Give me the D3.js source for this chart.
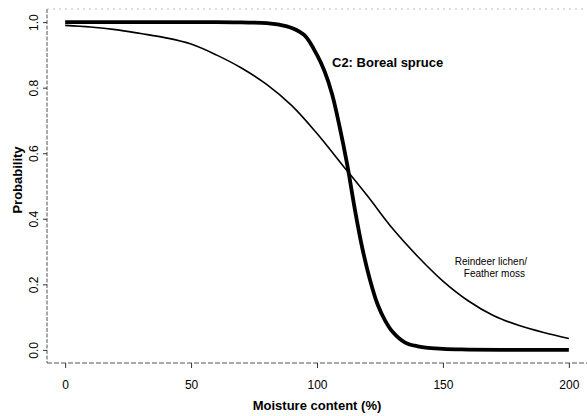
<!DOCTYPE html>
<html>
<head>
<meta charset="utf-8">
<script src="https://cdn.jsdelivr.net/npm/d3@7/dist/d3.min.js"></script>
<style>
  html, body { margin: 0; padding: 0; background: #fff; }
  svg { display: block; font-family: "Liberation Sans", Arial, Helvetica, sans-serif; }
</style>
</head>
<body>
<svg id="chart" width="587" height="416"></svg>
<script>
// Data
const spruceX = [0, 20, 40, 60, 70, 80, 85, 90, 95, 100, 103, 106, 109, 112, 115, 118, 121, 124, 127, 130, 135, 140, 150, 160, 180, 200];
const spruceP = [1.0, 1.0, 1.0, 1.0, 0.999, 0.997, 0.992, 0.982, 0.96, 0.90, 0.85, 0.78, 0.68, 0.565, 0.43, 0.31, 0.215, 0.14, 0.09, 0.055, 0.022, 0.011, 0.003, 0.001, 0.0, 0.0];

const lichenX = [0, 10, 20, 30, 40, 50, 60, 70, 80, 90, 100, 110, 120, 130, 140, 150, 160, 170, 180, 190, 200];
const lichenP = [0.99, 0.985, 0.977, 0.965, 0.952, 0.933, 0.90, 0.86, 0.81, 0.745, 0.66, 0.565, 0.47, 0.37, 0.285, 0.21, 0.15, 0.105, 0.075, 0.053, 0.035];

const xTicks = [0, 50, 100, 150, 200];
const yTicks = [0.0, 0.2, 0.4, 0.6, 0.8, 1.0];

const seriesLabels = ["C2: Boreal spruce", "Reindeer lichen/", "Feather moss"];
const xTitle = "Moisture content (%)";
const yTitle = "Probability";

const svg = d3.select("#chart");

// Plot region (R-style with 4% padding)
const x = d3.scaleLinear().domain([-8, 208]).range([45, 589]);
const y = d3.scaleLinear().domain([-0.04, 1.04]).range([363, 9]);

// Box lines
const boxLeft = x(-8), boxRight = x(208), boxTop = y(1.04), boxBottom = y(-0.04);
svg.append("line").attr("x1", boxLeft + 2).attr("x2", boxLeft + 2).attr("y1", boxTop).attr("y2", boxBottom)
  .attr("stroke", "#555").attr("stroke-width", 1).attr("stroke-dasharray", "4,1.5");
svg.append("line").attr("x1", boxLeft + 2).attr("x2", boxRight).attr("y1", boxBottom).attr("y2", boxBottom)
  .attr("stroke", "#555").attr("stroke-width", 1).attr("stroke-dasharray", "5,2");
svg.append("line").attr("x1", boxLeft + 2).attr("x2", boxRight).attr("y1", boxTop).attr("y2", boxTop)
  .attr("stroke", "#bbb").attr("stroke-width", 1).attr("stroke-dasharray", "2,4");

// X axis
const xAxis = d3.axisBottom(x).tickValues(xTicks).tickSize(5).tickPadding(12).tickFormat(d3.format("d"));
const gx = svg.append("g").attr("transform", `translate(0,${boxBottom})`).call(xAxis);
gx.select(".domain").remove();
gx.selectAll("line").attr("stroke", "#333");
gx.selectAll("text").attr("font-size", 12).attr("fill", "#000")
  .attr("font-family", "'Liberation Sans', Arial, sans-serif");

// Y axis
const yAxis = d3.axisLeft(y).tickValues(yTicks).tickSize(4).tickFormat(d3.format(".1f"));
const gy = svg.append("g").attr("transform", `translate(${boxLeft + 2},0)`).call(yAxis);
gy.select(".domain").remove();
gy.selectAll("line").attr("stroke", "#333");
gy.selectAll("text")
  .attr("x", 0).attr("dy", 0)
  .attr("transform", "translate(-9,0) rotate(-90)")
  .attr("text-anchor", "middle")
  .attr("font-size", 12).attr("fill", "#000")
  .attr("font-family", "'Liberation Sans', Arial, sans-serif");

// Curves
const line = d3.line().x(d => x(d[0])).y(d => y(d[1])).curve(d3.curveCatmullRom.alpha(0.5));
const lichen = lichenX.map((v, i) => [v, lichenP[i]]);
const spruce = spruceX.map((v, i) => [v, spruceP[i]]);

svg.append("path").datum(lichen).attr("d", line)
  .attr("fill", "none").attr("stroke", "#000").attr("stroke-width", 1.6);
svg.append("path").datum(spruce).attr("d", line)
  .attr("fill", "none").attr("stroke", "#000").attr("stroke-width", 3.8)
  .attr("stroke-linejoin", "round");

// Labels
svg.append("text").attr("x", 332).attr("y", 67)
  .attr("font-size", 13).attr("font-weight", "bold").text(seriesLabels[0]);
svg.append("text").attr("x", 527).attr("y", 265).attr("text-anchor", "end")
  .attr("font-size", 10).text(seriesLabels[1]);
svg.append("text").attr("x", 525).attr("y", 277).attr("text-anchor", "end")
  .attr("font-size", 10).text(seriesLabels[2]);

// Axis titles
svg.append("text").attr("x", (x(0) + x(200)) / 2).attr("y", 410).attr("text-anchor", "middle")
  .attr("font-size", 13).attr("font-weight", "bold").text(xTitle);
svg.append("text").attr("transform", "translate(22,180) rotate(-90)").attr("text-anchor", "middle")
  .attr("font-size", 13).attr("font-weight", "bold").text(yTitle);
</script>
</body>
</html>
